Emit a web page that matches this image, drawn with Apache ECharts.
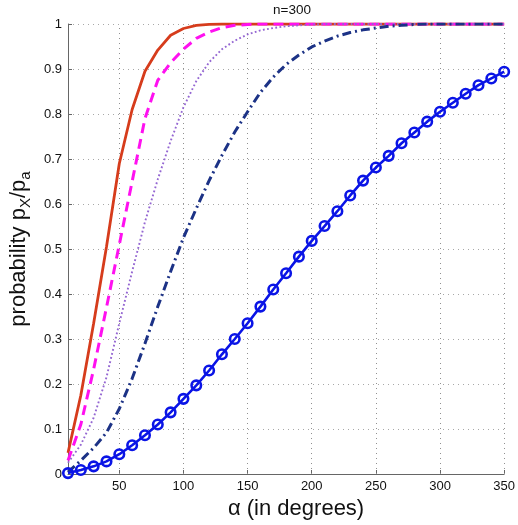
<!DOCTYPE html>
<html><head><meta charset="utf-8">
<script src="https://cdn.jsdelivr.net/npm/echarts@6/dist/echarts.min.js"></script>
<style>html,body{margin:0;padding:0;background:#fff}#c{width:518px;height:525px}</style>
</head><body><div id="c"></div><script>
const alphaDeg = [10,20,30,40,50,60,70,80,90,100,110,120,130,140,150,160,170,180,190,200,210,220,230,240,250,260,270,280,290,300,310,320,330,340,350];
const xTickValues = [50,100,150,200,250,300,350];
const redSolid = [0.047,0.175,0.335,0.505,0.69,0.81,0.895,0.942,0.975,0.990,0.997,0.999,1,1,1,1,1,1,1,1,1,1,1,1,1,1,1,1,1,1,1,1,1,1,1];
const magentaDashed = [0.03,0.11,0.233,0.37,0.51,0.65,0.79,0.875,0.914,0.944,0.968,0.982,0.992,0.997,0.999,1,1,1,1,1,1,1,1,1,1,1,1,1,1,1,1,1,1,1,1];
const purpleDotted = [0.025,0.065,0.125,0.215,0.335,0.45,0.56,0.655,0.74,0.815,0.873,0.915,0.944,0.963,0.977,0.986,0.991,0.995,0.997,0.999,1,1,1,1,1,1,1,1,1,1,1,1,1,1,1];
const navyDashDot = [0.004,0.03,0.058,0.092,0.145,0.212,0.29,0.372,0.45,0.525,0.59,0.652,0.708,0.76,0.805,0.848,0.882,0.91,0.931,0.949,0.962,0.973,0.981,0.987,0.991,0.995,0.997,0.999,1,1,1,1,1,1,1];
const blueCircles = [0.002,0.009,0.017,0.028,0.044,0.064,0.086,0.110,0.137,0.167,0.197,0.230,0.266,0.300,0.335,0.372,0.410,0.446,0.483,0.518,0.551,0.584,0.619,0.652,0.681,0.707,0.735,0.759,0.783,0.805,0.825,0.845,0.864,0.879,0.894];

const pairs = arr => alphaDeg.map((x, i) => [x, arr[i]]);
const FONT = 'Liberation Sans';
const chart = echarts.init(document.getElementById('c'), null, {renderer: 'canvas'});
const grid = {color: '#a8a8a8', width: 1, type: [1, 4]};
chart.setOption({
  animation: false,
  backgroundColor: '#fff',
  title: {text: 'n=300', left: 273, top: 3, padding: 0, textStyle: {fontSize: 13.5, fontWeight: 'normal', color: '#111', fontFamily: FONT}},
  grid: {left: 68, right: 13, top: 24, bottom: 51, containLabel: false},
  xAxis: {
    type: 'value', min: 10, max: 350,
    name: 'α (in degrees)', nameLocation: 'middle', nameGap: 20,
    nameTextStyle: {fontSize: 22, color: '#111', fontFamily: FONT, padding: [0, 0, 0, 20]},
    axisLine: {show: true, lineStyle: {color: '#666', width: 1}},
    axisTick: {show: true, inside: true, length: 4, customValues: xTickValues, lineStyle: {color: '#666'}},
    axisLabel: {customValues: xTickValues, fontSize: 13, color: '#111', fontFamily: FONT, margin: 6},
    splitLine: {show: false}
  },
  yAxis: {
    type: 'value', min: 0, max: 1, interval: 0.1,
    name: '{m|probability p}{s|X}{m|/p}{s|a}', nameLocation: 'middle', nameGap: 31,
    nameTextStyle: {
      color: '#111', fontFamily: FONT,
      rich: {
        m: {fontSize: 22, lineHeight: 28, verticalAlign: 'middle', fontFamily: FONT, color: '#111'},
        s: {fontSize: 15, lineHeight: 15, verticalAlign: 'bottom', fontFamily: FONT, color: '#111'}
      }
    },
    axisLine: {show: true, lineStyle: {color: '#666', width: 1}},
    axisTick: {show: true, inside: true, length: 4, lineStyle: {color: '#666'}},
    axisLabel: {fontSize: 13, color: '#111', fontFamily: FONT, margin: 6,
      formatter: v => (Math.abs(v) < 1e-9 ? '0' : Math.abs(v - 1) < 1e-9 ? '1' : v.toFixed(1))},
    splitLine: {show: true, lineStyle: grid}
  },
  series: [
    {type: 'line', data: pairs(redSolid), showSymbol: false, symbol: 'none', z: 3,
      lineStyle: {color: '#d63c1c', width: 2.8},
      markLine: {silent: true, symbol: ['none', 'none'], label: {show: false}, z: 1,
        lineStyle: {color: '#909090', width: 1, type: [1, 4]}, emphasis: {disabled: true},
        data: xTickValues.map(v => ({xAxis: v}))}},
    {type: 'line', data: pairs(magentaDashed), symbol: 'none', z: 3,
      lineStyle: {color: '#ff10f0', width: 3, type: [10, 6]}},
    {type: 'line', data: pairs(purpleDotted), symbol: 'none', z: 3,
      lineStyle: {color: '#9466d2', width: 1.9, type: [1.8, 2.4]}},
    {type: 'line', data: pairs(navyDashDot), symbol: 'none', z: 3,
      lineStyle: {color: '#1c3286', width: 3, type: [9, 4, 2, 4]}},
    {type: 'line', data: pairs(blueCircles), symbol: 'circle', symbolSize: 9.5, z: 3,
      lineStyle: {color: '#0a14e6', width: 2.6},
      itemStyle: {color: 'rgba(0,0,0,0)', borderColor: '#0a14e6', borderWidth: 2.6}}
  ]
});
</script></body></html>
